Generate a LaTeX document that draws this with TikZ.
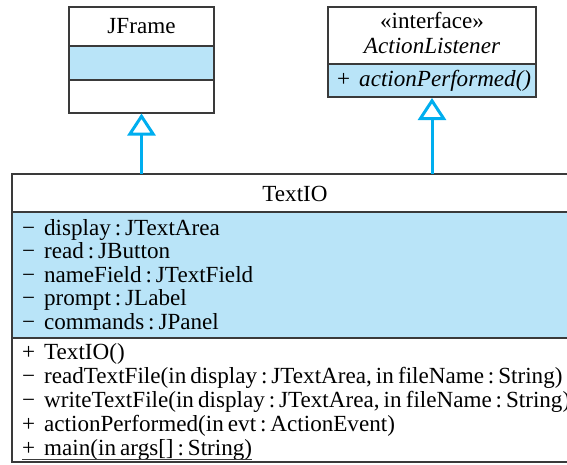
\documentclass[tikz,border=0pt]{standalone}
\usepackage{fontspec}
\setmainfont{Liberation Serif}
\usetikzlibrary{arrows.meta}
\definecolor{umlblue}{HTML}{B9E4F8}
\definecolor{umlline}{HTML}{3A3A3A}
\definecolor{umlarrow}{HTML}{00AEEF}
\newcommand{\mk}[1]{\makebox[22pt][l]{#1}}
\newcommand{\cl}{\hspace{0.17em}:\hspace{0.17em}}
\newcommand{\umlfont}{\fontsize{23.1}{24}\selectfont\spaceskip=0.18em plus 0.05em\relax}
\begin{document}
\begin{tikzpicture}[x=1pt,y=-1pt,
  box/.style={draw=umlline,line width=1.5pt},
  fillbox/.style={box,fill=umlblue},
  txt/.style={inner sep=0pt,font=\umlfont},
  member/.style={txt,anchor=base west},
  title/.style={txt,anchor=base},
  inherit/.style={draw=umlarrow,line width=3pt,-{Triangle[open,fill=white,width=28pt,length=22pt,line width=3pt]}}]
\useasboundingbox (0,0) rectangle (567,464);
\clip (0,0) rectangle (567,464);
% JFrame
\draw[box,fill=white] (69,7) rectangle (214,46);
\draw[fillbox] (69,46) rectangle (214,80);
\draw[box,fill=white] (69,80) rectangle (214,113);
\node[title] (jframe) at (141.5,33) {JFrame};
\coordinate (jfb) at (141.5,113.5);
% ActionListener
\draw[box,fill=white] (328,7) rectangle (536,64);
\draw[fillbox] (328,64) rectangle (536,97);
\node[title] (stereo) at (432,28) {«interface»};
\node[title] (al) at (432,53) {\itshape ActionListener};
\node[member] (alop) at (337,86) {\mk{+}\itshape actionPerformed()};
\coordinate (alb) at (432,98);
% TextIO
\draw[box,fill=white] (12,174) rectangle (600,212);
\draw[fillbox] (12,212) rectangle (600,338);
\draw[box,fill=white] (12,338) rectangle (600,462);
\node[title] (textio) at (295,201) {TextIO};
\coordinate (t1) at (141.5,174);
\coordinate (t2) at (432,174);
\node[member] (a1) at (22,235) {\mk{−}display\cl JTextArea};
\node[member] (a2) at (22,258.5) {\mk{−}read\cl JButton};
\node[member] (a3) at (22,282) {\mk{−}nameField\cl JTextField};
\node[member] (a4) at (22,305.5) {\mk{−}prompt\cl JLabel};
\node[member] (a5) at (22,329) {\mk{−}commands\cl JPanel};
\node[member] (m1) at (22,359) {\mk{+}TextIO()};
\node[member] (m2) at (22,383) {\mk{−}readTextFile(in display\cl JTextArea, in fileName\cl String)};
\node[member] (m3) at (22,407) {\mk{−}writeTextFile(in display\cl JTextArea, in fileName\cl String)};
\node[member] (m4) at (22,431) {\mk{+}actionPerformed(in evt\cl ActionEvent)};
\node[member] (m5) at (22,455) {\mk{+}main(in args[]\cl String)};
\draw[umlline,line width=1pt] ([yshift=-4.5pt]m5.base west) -- ([yshift=-4.5pt]m5.base east);
% generalisation arrows
\draw[inherit] (t1) -- (jfb);
\draw[inherit] (t2) -- (alb);
\end{tikzpicture}
\end{document}
